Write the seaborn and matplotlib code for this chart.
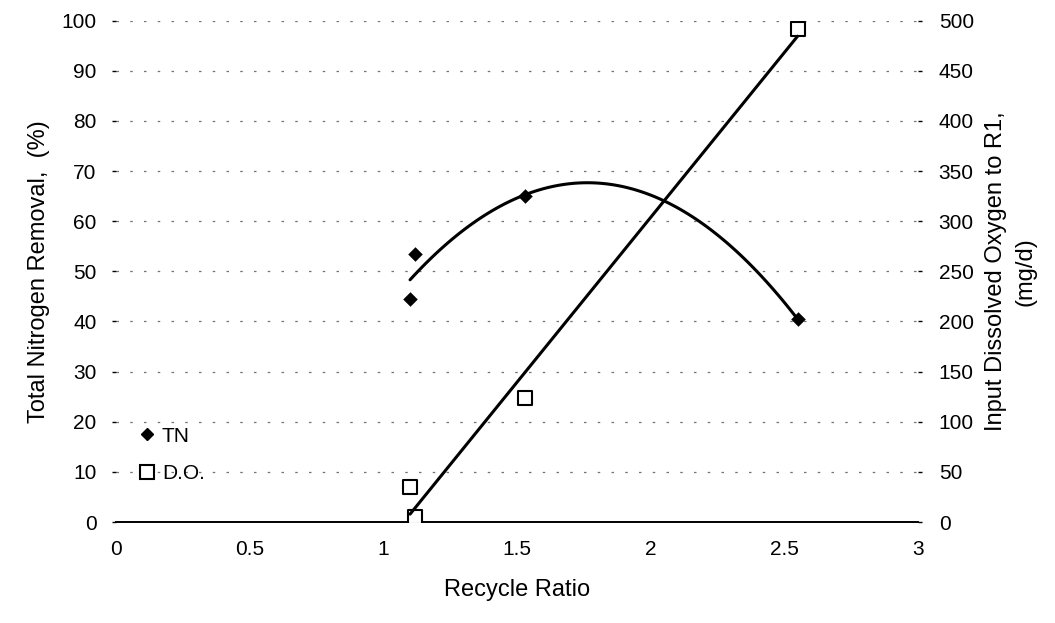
import numpy as np
import matplotlib
matplotlib.use("Agg")
import matplotlib.pyplot as plt
import seaborn as sns
from matplotlib.lines import Line2D

sns.set_theme(style="white")
plt.rcParams['font.family'] = ['Liberation Sans', 'DejaVu Sans']
plt.rcParams['text.color'] = 'black'
plt.rcParams['axes.labelcolor'] = 'black'

# data
recycle_ratio = [1.10, 1.12, 1.53, 2.55]
tn_removal = [44.5, 53.5, 65.0, 40.5]
do_input = [35.0, 5.0, 124.0, 492.0]
x_ticks = [0, 0.5, 1, 1.5, 2, 2.5, 3]
x_ticklabels = ["0", "0.5", "1", "1.5", "2", "2.5", "3"]
left_ticks = list(range(0, 101, 10))
right_ticks = list(range(0, 501, 50))

fig = plt.figure(figsize=(10.55, 6.23), dpi=100)
ax = fig.add_axes([0.11, 0.162, 0.76, 0.805])
ax2 = ax.twinx()

# TN with quadratic trend
sns.regplot(x=recycle_ratio, y=tn_removal, order=2, ci=None, ax=ax,
            marker="D", color="black",
            scatter_kws={"s": 55, "alpha": 1, "linewidths": 0},
            line_kws={"lw": 2.2})
# DO with linear trend
sns.regplot(x=recycle_ratio, y=do_input, order=1, ci=None, ax=ax2,
            marker="s", color="black",
            scatter_kws={"s": 110, "alpha": 1, "facecolors": "white",
                         "edgecolors": "black", "linewidths": 1.5},
            line_kws={"lw": 2.2})

ax.set_xlim(0, 3)
ax.set_ylim(0, 100)
ax2.set_ylim(0, 500)
ax.set_xticks(x_ticks)
ax.set_xticklabels(x_ticklabels)
ax.set_yticks(left_ticks)
ax2.set_yticks(right_ticks)

ax.yaxis.grid(True, linestyle=(0, (2, 9)), color="0.45", lw=0.9)
ax.xaxis.grid(False)
ax2.grid(False)

for a in (ax, ax2):
    for s in ("top", "left", "right"):
        a.spines[s].set_visible(False)
ax.spines["bottom"].set_visible(True)
ax.spines["bottom"].set_color("black")
ax.spines["bottom"].set_linewidth(1.4)
ax2.spines["bottom"].set_visible(False)

ax.tick_params(axis="x", length=0, pad=13, labelsize=15, colors="black")
ax.tick_params(axis="y", left=True, length=3, width=1, pad=11, labelsize=15, colors="black")
ax2.tick_params(axis="y", right=True, length=3, width=1, pad=12, labelsize=15, colors="black")

ax.set_xlabel("Recycle Ratio", fontsize=17, labelpad=14)
ax.set_ylabel("Total Nitrogen Removal,  (%)", fontsize=17, labelpad=8)
ax2.set_ylabel("Input Dissolved Oxygen to R1,\n(mg/d)", fontsize=17,
               labelpad=8, ha="center", multialignment="center",
               linespacing=1.45)

handles = [
    Line2D([], [], marker="D", color="black", ls="none", markersize=6.5),
    Line2D([], [], marker="s", markerfacecolor="white", markeredgecolor="black",
           markeredgewidth=1.5, ls="none", markersize=10),
]
leg = ax2.legend(handles, ["TN", "D.O."], loc="lower left",
                 bbox_to_anchor=(0.0, 0.04), frameon=False, fontsize=15,
                 handletextpad=0.1, labelspacing=0.9, handlelength=1.2)

fig.savefig("out.png", dpi=100, facecolor="white")
